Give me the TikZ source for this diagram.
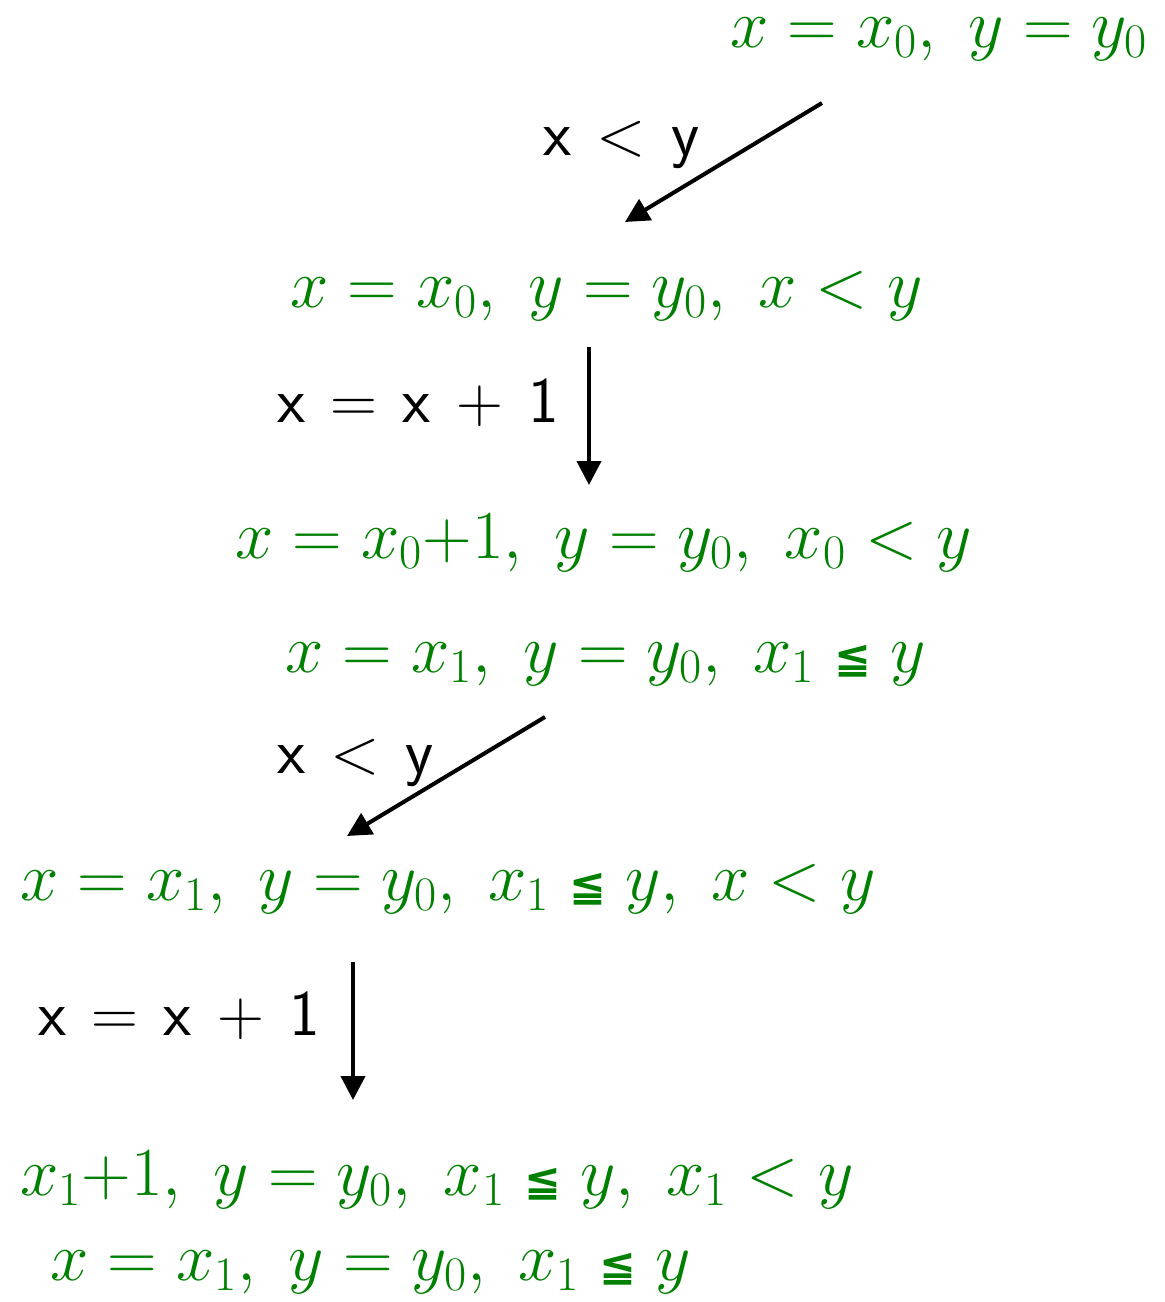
\RequirePackage{fix-cm}
\documentclass[tikz,border=0pt]{standalone}
\usepackage{amsmath,amssymb}
\usepackage{fontspec}
\usepackage{tikz}
\usetikzlibrary{arrows.meta}
\newfontfamily\dejavu{DejaVu Sans}
\definecolor{stategreen}{RGB}{0,128,0}
\newcommand{\leqsign}{\mathrel{\text{\dejavu\bfseries\fontsize{22}{24}\selectfont ≦}}}
\newcommand{\guardspacing}{\thickmuskip=7mu\relax\medmuskip=7mu\relax}

\begin{document}
\begin{tikzpicture}[x=0.5pt, y=-0.5pt,
  state/.style={text=stategreen, font=\fontsize{34.4}{40}\selectfont, inner sep=0pt, anchor=base west},
  guard/.style={font=\fontsize{32.5}{38}\selectfont\guardspacing, inner sep=0pt, anchor=base west},
  flow/.style={-{Triangle[length=12pt,width=12pt]}, line width=2pt}]
  \useasboundingbox (0,0) rectangle (1165,1302);

  % states
  \node[state] (s1) at (730,47)   {$x = x_0,\ y = y_0$};
  \node[state] (s2) at (290,307)  {$x = x_0,\ y = y_0,\ x < y$};
  \node[state] (s3) at (235,558)  {$x = x_0{+}1,\ y = y_0,\ x_0 < y$};
  \node[state] (s4) at (285,672)  {$x = x_1,\ y = y_0,\ x_1 \leqsign y$};
  \node[state] (s5) at (20,900)   {$x = x_1,\ y = y_0,\ x_1 \leqsign y,\ x < y$};
  \node[state] (s6) at (20,1195)  {$x_1{+}1,\ y = y_0,\ x_1 \leqsign y,\ x_1 < y$};
  \node[state] (s7) at (50,1280)  {$x = x_1,\ y = y_0,\ x_1 \leqsign y$};

  % guards and updates
  \node[guard] (g1) at (543,155)  {$\mathsf{x} < \mathsf{y}$};
  \node[guard] (u1) at (277,422)  {$\mathsf{x} = \mathsf{x} + \mathsf{1}$};
  \node[guard] (g2) at (277,773)  {$\mathsf{x} < \mathsf{y}$};
  \node[guard] (u2) at (38,1035)  {$\mathsf{x} = \mathsf{x} + \mathsf{1}$};

  % arrow ends
  \coordinate (a1) at (822,103);
  \coordinate (b1) at (625,222);
  \coordinate (a2) at (589,347);
  \coordinate (b2) at (589,485);
  \coordinate (a3) at (545,717);
  \coordinate (b3) at (347,836);
  \coordinate (a4) at (353,962);
  \coordinate (b4) at (353,1100);

  \draw[flow] (a1) -- (b1);
  \draw[flow] (a2) -- (b2);
  \draw[flow] (a3) -- (b3);
  \draw[flow] (a4) -- (b4);
\end{tikzpicture}
\end{document}
